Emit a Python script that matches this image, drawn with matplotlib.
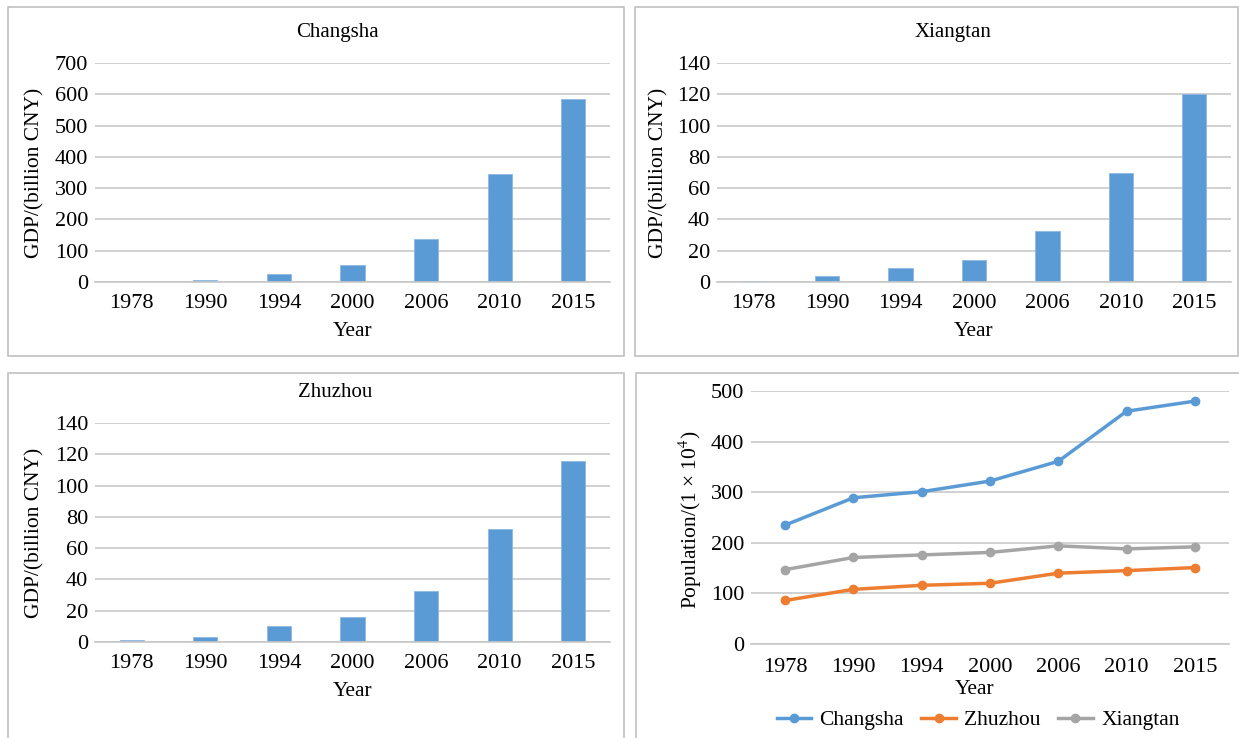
import matplotlib.pyplot as plt
from matplotlib.patches import Rectangle

plt.rcParams['font.family'] = ['Liberation Serif', 'DejaVu Serif']
plt.rcParams['mathtext.fontset'] = 'stix'

years = ['1978', '1990', '1994', '2000', '2006', '2010', '2015']

# GDP, billion CNY
gdp_changsha = [0.5, 7.5, 24.5, 54, 138, 345, 585]
gdp_xiangtan = [0.9, 3.6, 9, 14, 32.6, 70, 120]
gdp_zhuzhou = [1, 3.2, 10.2, 15.8, 32.6, 72.5, 115.5]

# population, 1x10^4
pop_changsha = [235, 289, 301, 322, 361, 460, 480]
pop_zhuzhou = [86, 108, 116, 120, 140, 145, 151]
pop_xiangtan = [147, 171, 176, 181, 194, 188, 192]

W, H = 1239, 738
grid_c = '#C8C8C8'
frame_c = '#C0C0C0'
blue = '#5B9BD5'
orange = '#ED7D31'
grey = '#A5A5A5'

fig = plt.figure(figsize=(W / 100, H / 100), dpi=100)

def px_axes(x0, y0, x1, y1):
    return fig.add_axes([x0 / W, 1 - y1 / H, (x1 - x0) / W, (y1 - y0) / H])

def frame(x0, y0, x1, y1):
    fig.patches.append(Rectangle((x0 / W, 1 - y1 / H), (x1 - x0) / W, (y1 - y0) / H,
                                 transform=fig.transFigure, fill=False,
                                 edgecolor=frame_c, linewidth=1.2))

def style(ax, ymax, step, xpad):
    ax.set_ylim(0, ymax)
    ax.set_yticks(range(0, ymax + 1, step))
    ax.set_xlim(-0.5, len(years) - 0.5)
    ax.set_xticks(range(len(years)))
    ax.set_xticklabels(years)
    ax.grid(axis='y', color=grid_c, linewidth=1.2)
    ax.set_axisbelow(True)
    for s in ['top', 'left', 'right']:
        ax.spines[s].set_visible(False)
    ax.spines['bottom'].set_color(grid_c)
    ax.spines['bottom'].set_linewidth(1.2)
    ax.tick_params(length=0, labelsize=16)
    ax.tick_params(axis='x', pad=xpad)
    ax.tick_params(axis='y', pad=5)

# frames around each panel
frame(8, 7, 624, 356)
frame(635, 7, 1238, 356)
frame(8, 373, 624, 745)
frame(636, 373, 1245, 745)

bar_panels = [
    ((95, 63, 610, 282), gdp_changsha, 700, 100, 'Changsha', 337, 32, 35),
    ((717, 63, 1231, 282), gdp_xiangtan, 140, 20, 'Xiangtan', 953, 32, 659),
    ((95, 423, 610, 642), gdp_zhuzhou, 140, 20, 'Zhuzhou', 335, 393, 35),
]
for box, vals, ymax, step, name, tx, ty, lx in bar_panels:
    ax = px_axes(*box)
    ax.bar(range(len(years)), vals, width=0.33, color=blue, edgecolor='#8DB7E2', linewidth=0.6)
    style(ax, ymax, step, 9)
    fig.text(tx / W, 1 - ty / H, name, ha='center', va='center', fontsize=15)
    fig.text(lx / W, 1 - (box[1] + box[3]) / 2 / H, 'GDP/(billion CNY)', rotation=90,
             ha='center', va='center', fontsize=15.5)
    fig.text((box[0] + box[2]) / 2 / W, 1 - (box[3] + 49) / H, 'Year',
             ha='center', va='center', fontsize=15.5)

# population panel
ax = px_axes(751, 391, 1229, 644)
x = range(len(years))
ax.plot(x, pop_changsha, color=blue, marker='o', markersize=6, linewidth=2.5, label='Changsha')
ax.plot(x, pop_zhuzhou, color=orange, marker='o', markersize=6, linewidth=2.5, label='Zhuzhou')
ax.plot(x, pop_xiangtan, color=grey, marker='o', markersize=6, linewidth=2.5, label='Xiangtan')
style(ax, 500, 100, 10)
fig.text(690 / W, 1 - 520 / H, 'Population/(1 × 10$^{4}$)', rotation=90,
         ha='center', va='center', fontsize=15.5)
fig.text(975 / W, 1 - 690 / H, 'Year', ha='center', va='center', fontsize=15.5)
fig.legend(loc='center', bbox_to_anchor=(978 / W, 1 - 720 / H), ncol=3, frameon=False,
           fontsize=15.5, handlelength=1.6, columnspacing=0.8, handletextpad=0.4)

fig.savefig('out.png', dpi=100)
